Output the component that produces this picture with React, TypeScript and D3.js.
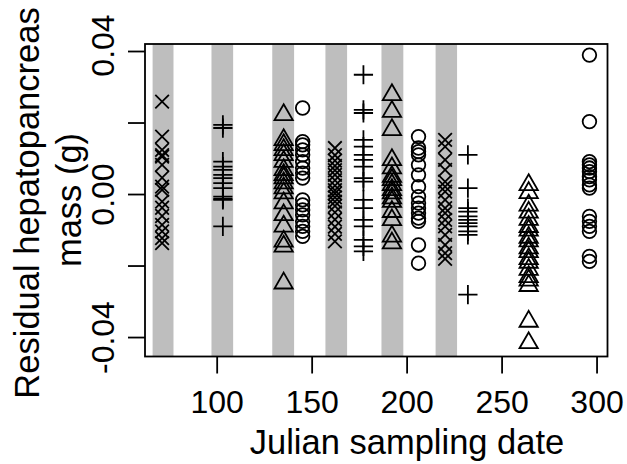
import React from "react";
import * as d3 from "d3";

// sampling dates (julian day) and symbol for each date
const dates = [71, 103, 135, 145, 162, 177, 192, 206, 220, 232, 264, 296];
const shapes = ["x", "plus", "tri", "circle", "x", "plus", "tri", "circle", "x", "plus", "tri", "circle"];

// residual hepatopancreas mass (g) per sampling date
const residuals = [
  [0.026, 0.0162, 0.0125, 0.011, 0.0106, 0.0083, 0.0047, 0.0022, 0.0013, -0.002, -0.0037, -0.006, -0.0085, -0.0103, -0.0122, -0.0136],
  [0.0195, 0.0186, 0.0092, 0.0078, 0.0069, 0.0055, 0.0046, 0.0032, 0.0018, -0.0006, -0.0012, -0.0015, -0.0089],
  [0.0223, 0.0153, 0.0139, 0.0125, 0.0111, 0.0092, 0.0069, 0.0055, 0.0046, 0.0032, 0.0018, 0.0004, -0.0024, -0.0057, -0.0089, -0.0131, -0.0145, -0.0248],
  [0.0242, 0.0148, 0.0139, 0.0125, 0.0111, 0.0092, 0.0074, 0.006, 0.0046, -0.0015, -0.0029, -0.0043, -0.0057, -0.0075, -0.0089, -0.0103, -0.0117],
  [0.013, 0.011, 0.0095, 0.008, 0.0068, 0.0055, 0.004, 0.0025, 0.0012, 0.0003, -0.0008, -0.002, -0.0032, -0.005, -0.007, -0.009, -0.011, -0.0131],
  [0.0335, 0.0237, 0.0228, 0.0153, 0.0134, 0.0111, 0.0097, 0.0078, 0.0046, 0.0036, -0.0015, -0.0038, -0.0071, -0.0089, -0.0127, -0.0145, -0.0159],
  [0.0279, 0.0232, 0.0181, 0.0097, 0.0074, 0.005, 0.0041, 0.0027, 0.0013, 0.0004, -0.001, -0.002, -0.0048, -0.0071, -0.0117, -0.0136],
  [0.0162, 0.013, 0.012, 0.0111, 0.0083, 0.0055, 0.0022, -0.0006, -0.0024, -0.0038, -0.0052, -0.0066, -0.0075, -0.0141, -0.0192],
  [0.0153, 0.0134, 0.0097, 0.0069, 0.0036, 0.0022, 0.0008, -0.0015, -0.0038, -0.0052, -0.0071, -0.0089, -0.0113, -0.0141, -0.0164, -0.018],
  [0.0111, 0.0018, -0.0038, -0.0048, -0.0061, -0.0071, -0.008, -0.0089, -0.0103, -0.0113, -0.028],
  [0.0027, 0.0005, -0.003, -0.005, -0.007, -0.009, -0.01, -0.012, -0.013, -0.015, -0.016, -0.018, -0.019, -0.021, -0.023, -0.024, -0.0255, -0.0355, -0.0415],
  [0.039, 0.0204, 0.0092, 0.0083, 0.0074, 0.0064, 0.005, 0.0041, 0.0027, 0.0018, -0.0061, -0.0075, -0.0089, -0.0103, -0.0173, -0.0187],
];

// shaded periods (julian day)
const bandStart = [66, 97, 129, 157, 186.5, 215];
const bandEnd = [77, 108.4, 140.5, 168.4, 198, 226.3];

const xTicks = [100, 150, 200, 250, 300];
const yTicks = [-0.04, -0.02, 0, 0.02, 0.04];
const yLabels = ["-0.04", "0.00", "0.04"];

const W = 627;
const H = 464;
const margin = { top: 44, right: 19.5, bottom: 107.5, left: 145 };
const font = "'Liberation Sans', Arial, Helvetica, sans-serif";
const lw = 1.8;

const Marker = ({ shape, cx, cy }) => {
  const r = 6.8;
  if (shape === "circle") {
    return <circle cx={cx} cy={cy} r={r} fill="none" stroke="#000" strokeWidth={lw} />;
  }
  let d = "";
  if (shape === "tri") {
    const top = 1.555 * r, h = 1.347 * r, b = 0.778 * r;
    d = `M${cx},${cy - top}L${cx + h},${cy + b}L${cx - h},${cy + b}Z`;
  } else if (shape === "plus") {
    const a = Math.SQRT2 * r;
    d = `M${cx - a},${cy}H${cx + a}M${cx},${cy - a}V${cy + a}`;
  } else {
    d = `M${cx - r},${cy - r}L${cx + r},${cy + r}M${cx - r},${cy + r}L${cx + r},${cy - r}`;
  }
  return <path d={d} fill="none" stroke="#000" strokeWidth={lw} />;
};

export default function App() {
  const x = d3.scaleLinear().domain([62.0, 305.5]).range([margin.left, W - margin.right]);
  const y = d3.scaleLinear().domain([-0.0453, 0.0421]).range([H - margin.bottom, margin.top]);
  const [x0, x1] = x.range();
  const [y0, y1] = y.range();
  const tick = 17;

  return (
    <svg width={W} height={H} style={{ position: "absolute", left: 0, top: 0, background: "#fff" }} fontFamily={font}>
      <rect x={0} y={0} width={W} height={H} fill="#fff" />
      {/* shaded bands */}
      {bandStart.map((s, i) => (
        <rect key={"b" + i} x={x(s)} y={y1} width={x(bandEnd[i]) - x(s)} height={y0 - y1} fill="#bebebe" />
      ))}

      {/* points */}
      {dates.map((dt, i) =>
        residuals[i].map((v, j) => <Marker key={i + "-" + j} shape={shapes[i]} cx={x(dt)} cy={y(v)} />)
      )}

      {/* box */}
      <rect x={x0} y={y1} width={x1 - x0} height={y0 - y1} fill="none" stroke="#000" strokeWidth={lw} />

      {/* x axis */}
      {xTicks.map((t) => (
        <g key={"xt" + t}>
          <line x1={x(t)} x2={x(t)} y1={y0} y2={y0 + tick} stroke="#000" strokeWidth={lw} />
          <text x={x(t)} y={413} fontSize={32} textAnchor="middle" fill="#000">{t}</text>
        </g>
      ))}
      <text x={407} y={454} fontSize={34.5} textAnchor="middle" fill="#000">Julian sampling date</text>

      {/* y axis */}
      {yTicks.map((t) => (
        <line key={"yt" + t} x1={x0 - tick} x2={x0} y1={y(t)} y2={y(t)} stroke="#000" strokeWidth={lw} />
      ))}
      {yLabels.map((l) => (
        <text key={"yl" + l} transform={`translate(114,${+l > 0 ? y(+l) - 6 : y(+l)}) rotate(-90)`} fontSize={32} textAnchor="middle" fill="#000">{l}</text>
      ))}
      <text transform={`translate(39,203) rotate(-90)`} fontSize={34.5} textAnchor="middle" fill="#000">Residual hepatopancreas</text>
      <text transform={`translate(81,200) rotate(-90)`} fontSize={34.5} textAnchor="middle" fill="#000">mass (g)</text>
    </svg>
  );
}
